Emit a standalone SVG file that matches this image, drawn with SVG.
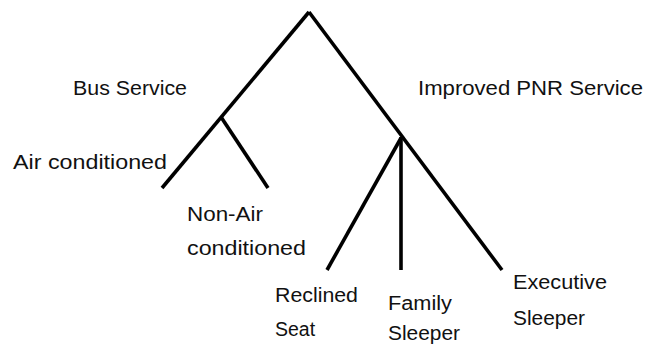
<svg xmlns="http://www.w3.org/2000/svg" width="646" height="347" viewBox="0 0 646 347">
<style>
.e{stroke:#000;stroke-width:3.6;stroke-linecap:butt;fill:none}
.t{font-family:"Liberation Sans",Arial,sans-serif;font-size:19.5px;fill:#111}
</style>
<rect width="646" height="347" fill="#fff"/>
<g id="connectors">
<line class="e" x1="309" y1="12" x2="162" y2="188"/>
<line class="e" x1="309" y1="12" x2="502" y2="270"/>
<line class="e" x1="221" y1="117" x2="268" y2="188"/>
<line class="e" x1="401" y1="138" x2="327" y2="270"/>
<line class="e" x1="401" y1="137" x2="401" y2="270"/>
</g>
<g id="bus"><text class="t" x="73" y="95" textLength="114" lengthAdjust="spacingAndGlyphs">Bus Service</text></g>
<g id="pnr"><text class="t" x="418" y="95" textLength="225" lengthAdjust="spacingAndGlyphs">Improved PNR Service</text></g>
<g id="air"><text class="t" x="13" y="169" textLength="154" lengthAdjust="spacingAndGlyphs">Air conditioned</text></g>
<g id="nonair"><text class="t" x="187" y="221" textLength="76" lengthAdjust="spacingAndGlyphs">Non-Air</text><text class="t" x="187" y="255" textLength="119" lengthAdjust="spacingAndGlyphs">conditioned</text></g>
<g id="reclined"><text class="t" x="275" y="302" textLength="83" lengthAdjust="spacingAndGlyphs">Reclined</text><text class="t" x="275" y="336">Seat</text></g>
<g id="family"><text class="t" x="388" y="310" textLength="64" lengthAdjust="spacingAndGlyphs">Family</text><text class="t" x="388" y="340" textLength="72" lengthAdjust="spacingAndGlyphs">Sleeper</text></g>
<g id="executive"><text class="t" x="513" y="289" textLength="94" lengthAdjust="spacingAndGlyphs">Executive</text><text class="t" x="513" y="325" textLength="72" lengthAdjust="spacingAndGlyphs">Sleeper</text></g>
</svg>
